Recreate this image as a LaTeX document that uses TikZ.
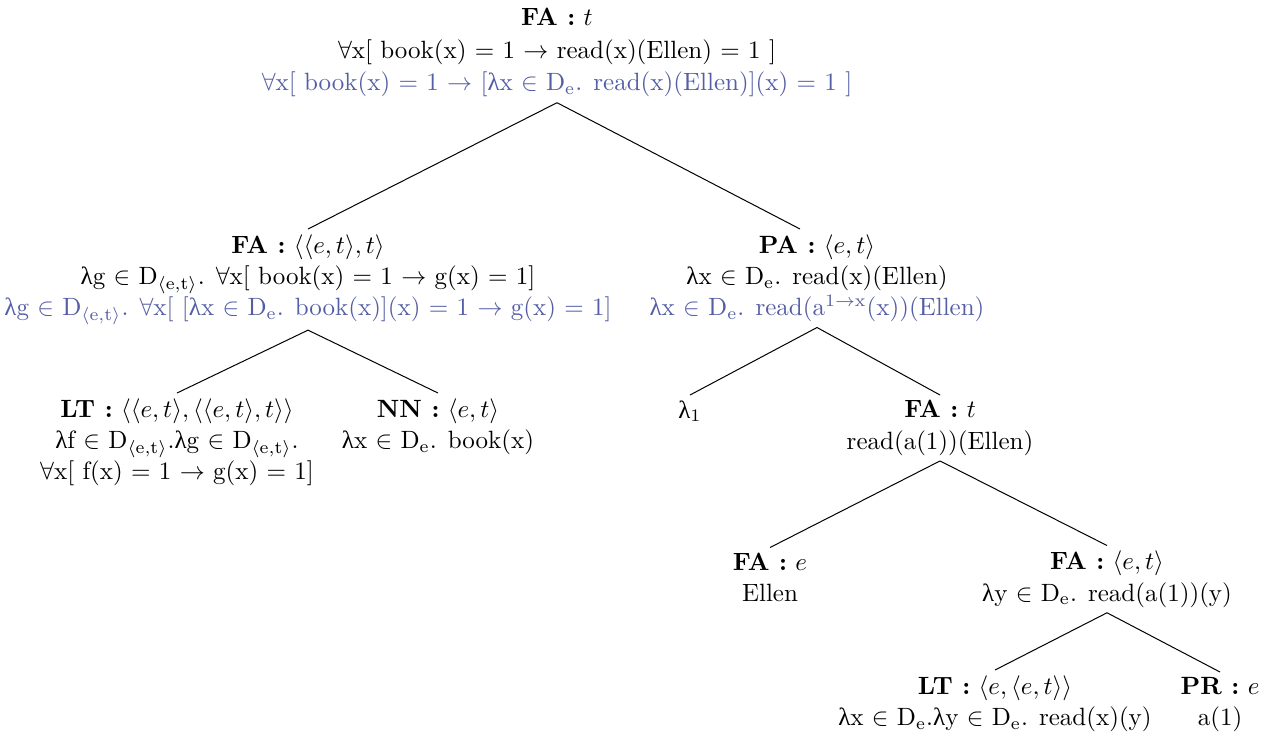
\documentclass[tikz,border=0pt]{standalone}
\usepackage{fontspec}
\newfontfamily\greekfont{Liberation Serif}
\newcommand{\lam}{{\greekfont λ}}
\definecolor{derivblue}{RGB}{84,94,164}
\begin{document}
\begin{tikzpicture}[
    tnode/.style={align=center, anchor=north, inner xsep=0pt, inner ysep=2pt,
      font=\fontsize{10}{12.5}\selectfont},
    branch/.style={line width=0.4pt}
  ]
    \useasboundingbox (0pt,0pt) rectangle (504.8pt,-292.4pt);
    % root
    \node[tnode, font=\fontsize{10}{13}\selectfont] (root) at (222.8pt, -1.2pt) {\textbf{FA :} $t$\\
      $\forall$x[ book(x) = 1 $\rightarrow$ read(x)(Ellen) = 1 ]\\
      \textcolor{derivblue}{$\forall$x[ book(x) = 1 $\rightarrow$ [\lam x $\in$ D$_\mathrm{e}$. read(x)(Ellen)](x) = 1 ]}};
    % second level
    \node[tnode] (fa) at (123.2pt, -91.6pt) {\textbf{FA :} $\langle\langle e,t\rangle,t\rangle$\\
      \lam g $\in$ D$_{\langle\mathrm{e,t}\rangle}$. $\forall$x[ book(x) = 1 $\rightarrow$ g(x) = 1]\\
      \textcolor{derivblue}{\lam g $\in$ D$_{\langle\mathrm{e,t}\rangle}$. $\forall$x[ [\lam x $\in$ D$_\mathrm{e}$. book(x)](x) = 1 $\rightarrow$ g(x) = 1]}};
    \node[tnode] (pa) at (326.8pt, -91.6pt) {\textbf{PA :} $\langle e,t\rangle$\\
      \lam x $\in$ D$_\mathrm{e}$. read(x)(Ellen)\\
      \textcolor{derivblue}{\lam x $\in$ D$_\mathrm{e}$. read(a$^{1\rightarrow\mathrm{x}}$(x))(Ellen)}};
    % third level
    \node[tnode] (lt) at (70.8pt, -157.2pt) {\textbf{LT :} $\langle\langle e,t\rangle,\langle\langle e,t\rangle,t\rangle\rangle$\\
      \lam f $\in$ D$_{\langle\mathrm{e,t}\rangle}$.\lam g $\in$ D$_{\langle\mathrm{e,t}\rangle}$.\\
      $\forall$x[ f(x) = 1 $\rightarrow$ g(x) = 1]};
    \node[tnode] (nn) at (175.2pt, -157.2pt) {\textbf{NN :} $\langle e,t\rangle$\\
      \lam x $\in$ D$_\mathrm{e}$. book(x)};
    \node[tnode] (lam) at (276pt, -158pt) {\lam$_1$};
    \node[tnode] (fat) at (376pt, -158pt) {\textbf{FA :} $t$\\
      read(a(1))(Ellen)};
    % fourth level
    \node[tnode] (fae) at (308pt, -219pt) {\textbf{FA :} $e$\\
      Ellen};
    \node[tnode] (faet) at (442.8pt, -218.2pt) {\textbf{FA :} $\langle e,t\rangle$\\
      \lam y $\in$ D$_\mathrm{e}$. read(a(1))(y)};
    % fifth level
    \node[tnode] (lt2) at (398pt, -268pt) {\textbf{LT :} $\langle e,\langle e,t\rangle\rangle$\\
      \lam x $\in$ D$_\mathrm{e}$.\lam y $\in$ D$_\mathrm{e}$. read(x)(y)};
    \node[tnode] (pr) at (488pt, -268.8pt) {\textbf{PR :} $e$\\
      a(1)};
    % branches
    \draw[branch] (root.south) -- (fa.north);
    \draw[branch] (root.south) -- ([xshift=-6.8pt]pa.north);
    \draw[branch] (fa.south) -- (lt.north);
    \draw[branch] (fa.south) -- (nn.north);
    \draw[branch] (pa.south) -- (lam.north);
    \draw[branch] (pa.south) -- (fat.north);
    \draw[branch] (fat.south) -- (fae.north);
    \draw[branch] (fat.south) -- (faet.north);
    \draw[branch] (faet.south) -- (lt2.north);
    \draw[branch] (faet.south) -- (pr.north);
\end{tikzpicture}
\end{document}
